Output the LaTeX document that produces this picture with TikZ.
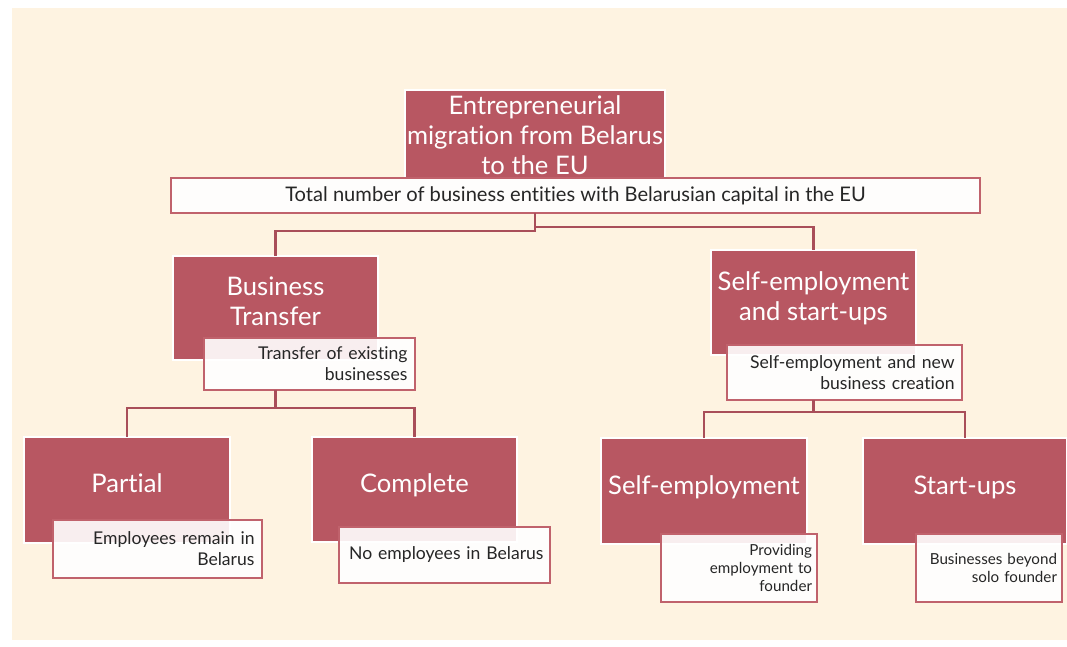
\documentclass[tikz,border=0pt]{standalone}
\usepackage{fontspec}
\setmainfont{Lato}[Ligatures={NoCommon}]
\usetikzlibrary{positioning}

\definecolor{cream}{HTML}{FEF3E1}
\definecolor{rosebox}{HTML}{B85762}
\definecolor{roseline}{HTML}{C0626C}
\definecolor{roselink}{HTML}{A94E59}
\definecolor{inktext}{HTML}{262626}

\tikzset{
    topic/.style={rectangle, fill=rosebox, draw=white, line width=1pt,
        inner sep=0pt, outer sep=0pt},
    topictext/.style={text=white, align=center, inner sep=0pt,
        font=\fontsize{18.2}{21.3}\selectfont},
    note/.style={rectangle, fill=white, fill opacity=0.9, text opacity=1,
        draw=roseline, line width=1.6pt, text=inktext, align=right,
        inner sep=0pt, outer sep=0pt, font=\fontsize{12.5}{15}\selectfont},
    smallnote/.style={note, font=\fontsize{10.8}{12.8}\selectfont},
    link/.style={draw=roselink, line width=1.7pt},
}

\begin{document}
\begin{tikzpicture}[x=0.025cm, y=-0.025cm]
        \useasboundingbox (0,0) rectangle (1067,646);
        % Draw background panel
        \fill[cream] (12,8) rectangle (1067,640);
        % Root of the tree
        \node[topic, minimum width=6.5cm, minimum height=2.2cm] (root) at (535,134) {};
        \node[topictext] (roottext) at (535,135) {Entrepreneurial\\migration from Belarus\\to the EU};
        \node[note, align=center, minimum width=20.225cm, minimum height=0.875cm,
            font=\fontsize{14.3}{17}\selectfont] (total) at (575.5,195.5)
            {Total number of business entities with Belarusian capital in the EU};
        % Second level
        \node[topic, minimum width=5.125cm, minimum height=2.6cm] (bt) at (275.5,308) {};
        \node[topictext] at (275.5,301) {Business\\Transfer};
        \node[note, text width=4.9cm, minimum width=5.275cm, minimum height=1.3cm] (btnote) at (309.5,364)
            {Transfer of existing\\businesses};
        \node[topic, minimum width=5.125cm, minimum height=2.625cm] (ss) at (813.5,302.5) {};
        \node[topictext] at (813.5,298) {Self-employment\\and start-ups};
        \node[note, text width=5.5cm, minimum width=5.875cm, minimum height=1.375cm] (ssnote) at (844.5,372.5)
            {Self-employment and new\\business creation};
        % Third level
        \node[topic, minimum width=5.15cm, minimum height=2.65cm] (partial) at (127,490) {};
        \node[topictext] at (127,483) {Partial};
        \node[note, text width=4.85cm, minimum width=5.225cm, minimum height=1.45cm] (partialnote) at (157.5,549)
            {Employees remain in\\Belarus};
        \node[topic, minimum width=5.125cm, minimum height=2.625cm] (complete) at (414.5,489.5) {};
        \node[topictext] at (414.5,485) {Complete};
        \node[note, text width=4.95cm, minimum width=5.275cm, minimum height=1.4cm] (completenote) at (444.5,555)
            {No employees in Belarus};
        \node[topic, minimum width=5.15cm, minimum height=2.65cm] (selfemp) at (704,491) {};
        \node[topictext] at (704,487) {Self-employment};
        \node[smallnote, text width=3.65cm, minimum width=3.9cm, minimum height=1.7cm] (selfempnote) at (739,568)
            {Providing\\employment to\\founder};
        \node[topic, minimum width=5.1cm, minimum height=2.65cm] (startups) at (965,491) {};
        \node[topictext] at (965,487) {Start-ups};
        \node[smallnote, text width=3.4cm, minimum width=3.65cm, minimum height=1.7cm] (startupsnote) at (989,568)
            {Businesses beyond\\solo founder};
        % Connectors between levels
        \draw[link] (total.south -| root.south) -- ++(0,18) -| (bt.north);
        \draw[link] (total.south -| root.south) -- ++(0,14) -| (ss.north);
        \draw[link] (btnote.south -| bt.south) -- ++(0,18) -| (partial.north);
        \draw[link] (btnote.south -| bt.south) -- ++(0,18) -| (complete.north);
        \draw[link] (ssnote.south -| ss.south) -- ++(0,12) -| (selfemp.north);
        \draw[link] (ssnote.south -| ss.south) -- ++(0,12) -| (startups.north);
\end{tikzpicture}
\end{document}
